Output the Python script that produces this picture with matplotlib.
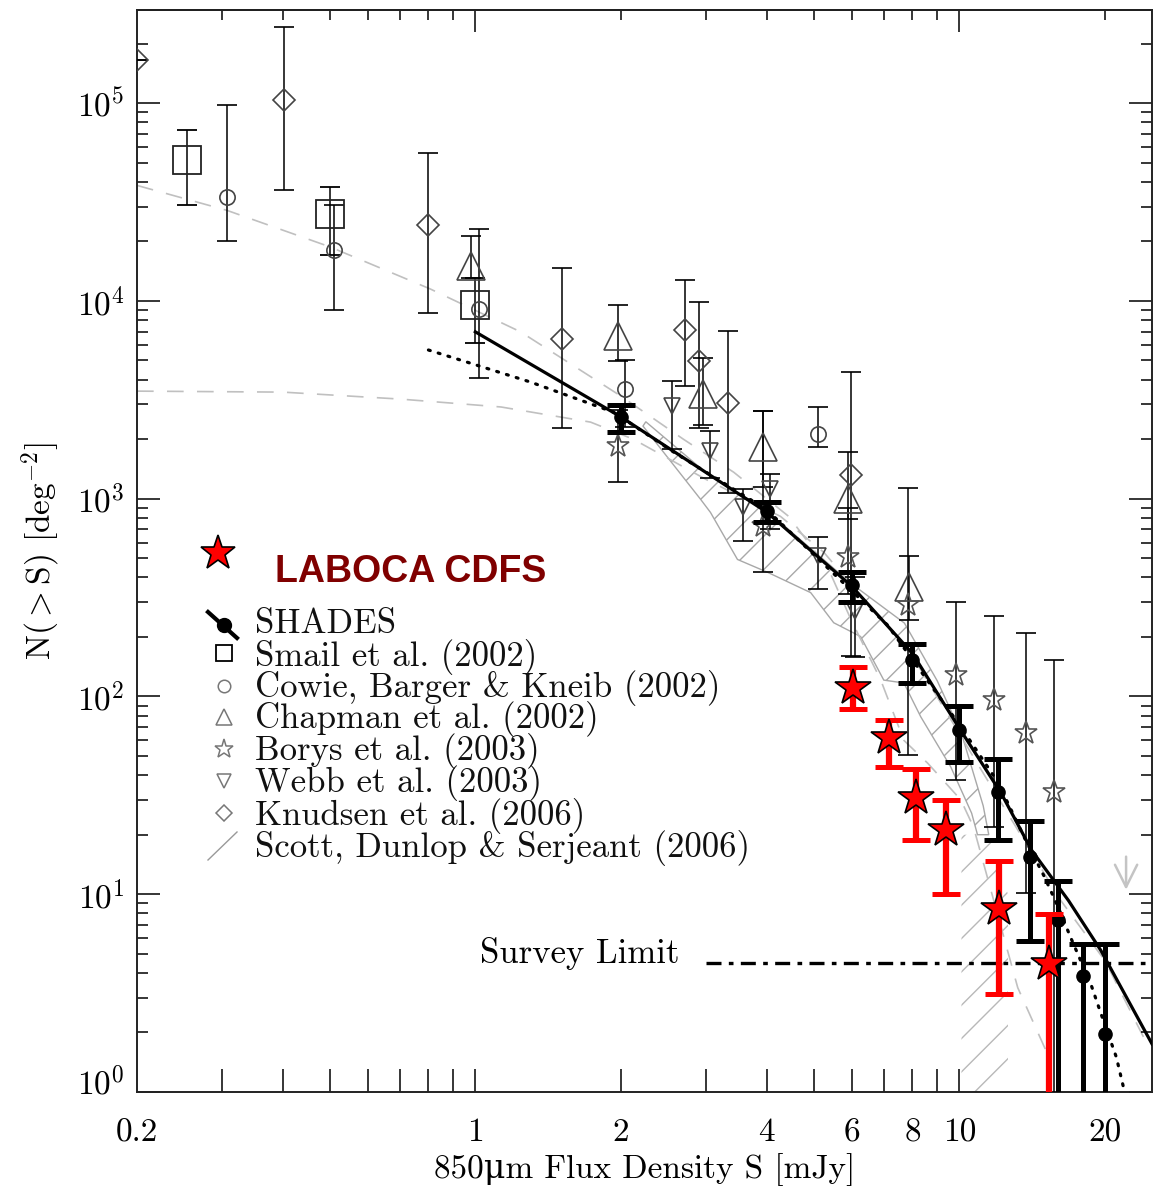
import numpy as np
import matplotlib
matplotlib.use('Agg')
import matplotlib.pyplot as plt
import matplotlib.transforms as mtransforms
from matplotlib.patches import Polygon
from matplotlib.lines import Line2D
from matplotlib.ticker import FixedLocator, FixedFormatter, NullFormatter

plt.rcParams['font.family'] = ['cmr10', 'DejaVu Serif']
plt.rcParams['mathtext.fontset'] = 'cm'
plt.rcParams['axes.unicode_minus'] = False
plt.rcParams['hatch.linewidth'] = 1.0

# ---- SHADES cumulative counts ----
shades_s = [2, 4, 6, 8, 10, 12, 14, 16, 18, 20]
shades_n = [2590, 863, 368, 153, 67.7, 32.8, 15.4, 7.4, 3.87, 1.97]
shades_hi = [2977, 959, 428, 185, 89.6, 48.3, 23.4, 11.7, 5.63, 5.63]
shades_lo = [2172, 759, 302, 117, 46.6, 18.7, 5.83, 0.5, 0.5, 0.5]

# SHADES fit (solid) and alternative fit (dotted)
fit_s = [1.0, 2.0, 4.0, 6.0, 8.0, 10.0, 12.2, 14.1, 16.8, 19.6, 25.0]
fit_n = [6980, 2590, 855, 360, 165, 69, 32.4, 16.7, 9.3, 5.2, 1.75]
dot_s = [0.8, 1.3, 1.93, 2.57, 4.0, 7.1, 10.0, 12.0, 13.7, 15.0, 16.0, 17.0, 18.7, 19.6, 21.1, 21.8]
dot_n = [5650, 3890, 2740, 1720, 880, 230, 72, 37, 18.8, 12.2, 8.6, 6.0, 3.5, 2.5, 1.5, 1.07]

# model curves (grey dashed)
mod1_s = [0.2, 0.307, 0.5, 0.807, 1.24, 2.0, 2.69, 3.42, 4.44, 5.37, 5.97, 6.88, 7.68, 8.6, 10.07, 10.7, 13.2, 15.2]
mod1_n = [38400, 28700, 18800, 11500, 6980, 3300, 2000, 1360, 814, 439, 245, 121, 60, 46, 30, 21.8, 3.37, 1.56]
mod2_s = [0.2, 0.4, 0.7, 1.13, 1.73, 2.12, 3.0, 4.27, 5.25, 8.0, 12.0, 16.2, 20.0, 24.0]
mod2_n = [3500, 3460, 3190, 2910, 2440, 2000, 1250, 814, 535, 160, 31, 9.3, 4.6, 1.9]

# Scott, Dunlop & Serjeant (2006) region
scott_s = [2.25, 3.0, 4.0, 6.0, 7.7, 9.0, 10.1, 11.2, 11.5,
           10.9, 10.6, 9.6, 8.32, 7.68, 6.98, 6.25, 5.5, 4.93, 4.02, 3.48, 3.06, 2.92, 2.22]
scott_n = [2450, 1350, 870, 370, 235, 120, 65, 28, 20,
           20, 25.7, 44, 79, 117, 121, 201, 236, 335, 424, 493, 853, 993, 2330]
scott_tail_s = [10.1, 11.5, 12.6, 12.6, 10.1]
scott_tail_n = [20, 20, 10, 0.5, 0.5]

smail_s = [0.254, 0.501, 1.0]
smail_n = [51400, 27400, 9570]
smail_hi = [72900, 37500, 13100]
smail_lo = [30400, 17100, 6140]

cowie_s = [0.307, 0.51, 1.02, 2.04, 5.1]
cowie_n = [33400, 18200, 9120, 3590, 2120]
cowie_hi = [97800, 30400, 23200, 5040, 2900]
cowie_lo = [20200, 9020, 4080, 2300, 1820]

chap_s = [0.98, 1.97, 2.95, 3.92, 5.88, 7.87]
chap_n = [15100, 6660, 3380, 1820, 993, 356]
chap_hi = [21200, 9570, 5170, 2770, 1720, 516]
chap_lo = [13100, 4980, 2360, 1140, 786, 245]

borys_s = [1.97, 3.92, 5.88, 7.82, 9.84, 11.8, 13.7, 15.7]
borys_n = [1845, 724, 505, 291, 129, 96, 65.4, 32.8]
borys_hi = [2800, 2770, 900, 1130, 302, 256, 210, 153]
borys_lo = [1210, 424, 330, 50.6, 37.8, 22, 10.1, 0.5]

webb_s = [2.55, 3.06, 3.57, 4.07, 5.1, 6.1]
webb_n = [2940, 1740, 904, 1117, 511, 269]
webb_hi = [3940, 2190, 1115, 1330, 637, 400]
webb_lo = [1780, 1270, 608, 700, 351, 159]

knud_s = [0.2, 0.403, 0.80, 1.51, 2.71, 2.90, 3.32, 5.97]
knud_n = [165000, 103500, 24300, 6430, 7150, 4980, 3050, 1315]
knud_hi = [165000, 243000, 56300, 14700, 12800, 9880, 7060, 4380]
knud_lo = [165000, 36600, 8710, 2280, 3720, 2280, 1065, 160]

# LABOCA CDFS
laboca_s = [6.02, 7.15, 8.13, 9.38, 12.07, 15.3]
laboca_n = [110.6, 61.7, 30.6, 21.1, 8.47, 4.46]
laboca_hi = [141, 76, 43, 29.9, 14.8, 7.9]
laboca_lo = [86.5, 44, 18.7, 10.0, 3.14, 0.5]

survey_s = [3.0, 25.0]
survey_n = [4.5, 4.5]
limit_s, limit_top, limit_bot = 22.1, 16.0, 10.2

xtick_vals = [0.2, 1, 2, 4, 6, 8, 10, 20]
xtick_text = ['0.2', '1', '2', '4', '6', '8', '10', '20']
ytick_vals = [1, 10, 100, 1e3, 1e4, 1e5]
ytick_text = ['$10^0$', '$10^1$', '$10^2$', '$10^3$', '$10^4$', '$10^5$']

W, H = 1156, 1191
fig = plt.figure(figsize=(W / 100, H / 100), dpi=100)
ax = fig.add_axes([137 / W, 1 - 1092 / H, (1152 - 137) / W, (1092 - 10) / H])
ax.set_xscale('log')
ax.set_yscale('log')


def yerr(n, lo, hi):
    n, lo, hi = np.array(n), np.array(lo), np.array(hi)
    return [n - lo, hi - n]


# hatched region
ax.add_patch(Polygon(np.column_stack([scott_s, scott_n]), closed=True, fill=False,
                     edgecolor='#a8a8a8', hatch='/', lw=1.0, zorder=1))
ax.add_patch(Polygon(np.column_stack([scott_tail_s, scott_tail_n]), closed=True, fill=False,
                     edgecolor='#b8b8b8', hatch='/', lw=0, zorder=1))

ax.plot(mod1_s, mod1_n, color='#c0c0c0', lw=1.2, ls=(0, (10, 8)), zorder=1.5)
ax.plot(mod2_s, mod2_n, color='#c0c0c0', lw=1.2, ls=(0, (10, 8)), zorder=1.5)

thin = dict(ecolor='black', elinewidth=1.1, capsize=7, capthick=1.1, ls='none', zorder=3)
ax.errorbar(smail_s, smail_n, yerr=yerr(smail_n, smail_lo, smail_hi), marker='s', ms=20,
            mfc='none', mec='#222222', mew=1.3, **thin)
ax.errorbar(cowie_s, cowie_n, yerr=yerr(cowie_n, cowie_lo, cowie_hi), marker='o', ms=11,
            mfc='none', mec='#444444', mew=1.2, **thin)
ax.errorbar(chap_s, chap_n, yerr=yerr(chap_n, chap_lo, chap_hi), marker='^', ms=20,
            mfc='none', mec='#444444', mew=1.2, **thin)
ax.errorbar(borys_s, borys_n, yerr=yerr(borys_n, borys_lo, borys_hi), marker='*', ms=17,
            mfc='none', mec='#555555', mew=1.2, **thin)
ax.errorbar(webb_s, webb_n, yerr=yerr(webb_n, webb_lo, webb_hi), marker='v', ms=12,
            mfc='none', mec='#444444', mew=1.2, **thin)
ax.errorbar(knud_s, knud_n, yerr=yerr(knud_n, knud_lo, knud_hi), marker='D', ms=11.5,
            mfc='none', mec='#444444', mew=1.2, **thin)

ax.plot(fit_s, fit_n, color='black', lw=2.3, zorder=4)
ax.plot(dot_s, dot_n, color='black', lw=2.3, ls=(0, (0.6, 2.6)), dash_capstyle='round', zorder=4)

ax.errorbar(shades_s, shades_n, yerr=yerr(shades_n, shades_lo, shades_hi), fmt='o', ms=9.5,
            color='black', elinewidth=3.6, capsize=10, capthick=3.6, zorder=5)

ax.plot(survey_s, survey_n, color='black', lw=2.4, ls=(0, (4.5, 2.2, 1.4, 2.2)), zorder=4)
ax.text(2.64, 4.5, 'Survey Limit', ha='right', va='baseline', fontsize=25)

ax.annotate('', xy=(limit_s, limit_bot), xytext=(limit_s, limit_top),
            arrowprops=dict(arrowstyle='->', color='#c4c4c4', lw=1.8, mutation_scale=40))

ax.errorbar(laboca_s, laboca_n, yerr=yerr(laboca_n, laboca_lo, laboca_hi), fmt='none',
            ecolor='#ff0000', elinewidth=4.5, capsize=10, capthick=3.6, zorder=6)
ax.plot(laboca_s, laboca_n, ls='none', marker='*', ms=27, mfc='#ff0000', mec='black',
        mew=1.2, zorder=7)

ax.set_xlim(0.2, 25)
ax.set_ylim(1, 2.96e5)

# axes and ticks
for sp in ax.spines.values():
    sp.set_linewidth(1.4)
    sp.set_color('#222222')

ax.xaxis.set_major_locator(FixedLocator(xtick_vals))
ax.xaxis.set_major_formatter(FixedFormatter(xtick_text))
ax.xaxis.set_minor_locator(FixedLocator([0.3, 0.4, 0.5, 0.6, 0.7, 0.8, 0.9, 3, 5, 7, 9]))
ax.xaxis.set_minor_formatter(NullFormatter())
ax.tick_params(axis='x', which='both', direction='in', length=16.5, width=1.1,
               top=False, bottom=True, labelsize=24, pad=19)
xt = ax.xaxis.get_major_ticks()
xt[0].tick1line.set_visible(False)
xt[-1].tick1line.set_visible(False)

ax.yaxis.set_major_locator(FixedLocator(ytick_vals))
ax.yaxis.set_major_formatter(FixedFormatter(ytick_text))
yminor = [m * 10 ** e for e in range(0, 6) for m in range(2, 10) if m * 10 ** e < 2.96e5]
ax.yaxis.set_minor_locator(FixedLocator(yminor))
ax.yaxis.set_minor_formatter(NullFormatter())
ax.tick_params(axis='y', which='major', direction='in', length=16.5, width=1.1,
               left=True, right=True, labelsize=24, pad=9)
ax.tick_params(axis='y', which='minor', direction='in', length=8, width=1.1,
               left=True, right=True)

# lift the 10^0 label clear of the 0.2 label
lab0 = ax.yaxis.get_major_ticks()[0].label1
lab0.set_transform(lab0.get_transform() +
                   mtransforms.ScaledTranslation(0, 0.12, fig.dpi_scale_trans))

top = ax.secondary_xaxis('top')
top.xaxis.set_major_locator(FixedLocator([1, 10]))
top.xaxis.set_minor_locator(FixedLocator([0.3, 0.4, 0.5, 0.6, 0.7, 0.8, 0.9,
                                          2, 3, 4, 5, 6, 7, 8, 9, 20]))
top.xaxis.set_major_formatter(NullFormatter())
top.xaxis.set_minor_formatter(NullFormatter())
top.tick_params(which='major', direction='in', length=16, width=1.1)
top.tick_params(which='minor', direction='in', length=7, width=1.1)
top.spines['top'].set_linewidth(1.4)

ax.set_xlabel('850μm Flux Density S [mJy]', fontsize=24, labelpad=4)
ax.set_ylabel('N(${>}$S) [deg$^{-2}$]', fontsize=24, labelpad=10)

# legend, drawn by hand
def fpos(x, y):
    return x / W, 1 - y / H

def legend_mark(x, y, **kw):
    fx, fy = fpos(x, y)
    fig.add_artist(Line2D([fx], [fy], transform=fig.transFigure, ls='none', **kw))

legend_mark(218, 553, marker='*', ms=26, mfc='#ff0000', mec='black', mew=1.2)
fx, fy = fpos(275, 582)
fig.text(fx, fy, 'LABOCA CDFS', family='Liberation Sans', weight='bold',
         color='#800000', fontsize=27, va='baseline')

x0, x1 = fpos(208, 0)[0], fpos(237, 0)[0]
fig.add_artist(Line2D([x0, x1], [fpos(0, 612)[1], fpos(0, 638)[1]], transform=fig.transFigure,
                      color='black', lw=3))
legend_mark(224, 625, marker='o', ms=10, color='black')
legend_mark(224, 653, marker='s', ms=12, mfc='none', mec='black', mew=1.3)
legend_mark(224, 686, marker='o', ms=9, mfc='none', mec='#777777', mew=1.1)
legend_mark(224, 717, marker='^', ms=11, mfc='none', mec='#777777', mew=1.1)
legend_mark(224, 749, marker='*', ms=14, mfc='none', mec='#777777', mew=1.1)
legend_mark(224, 781, marker='v', ms=10, mfc='none', mec='#777777', mew=1.1)
legend_mark(224, 813, marker='D', ms=8, mfc='none', mec='#777777', mew=1.1)
fig.add_artist(Line2D([x0, x1], [fpos(0, 860)[1], fpos(0, 832)[1]], transform=fig.transFigure,
                      color='#999999', lw=1.0))

legend_labels = ['SHADES', 'Smail et al. (2002)', 'Cowie, Barger & Kneib (2002)',
                 'Chapman et al. (2002)', 'Borys et al. (2003)', 'Webb et al. (2003)',
                 'Knudsen et al. (2006)', 'Scott, Dunlop & Serjeant (2006)']
legend_base = [633, 666, 697, 728, 760, 792, 825, 857]
for lab, yb in zip(legend_labels, legend_base):
    fx, fy = fpos(255, yb)
    fig.text(fx, fy, lab, fontsize=25, va='baseline', color='#111111')

fig.savefig('out.png', dpi=100)
